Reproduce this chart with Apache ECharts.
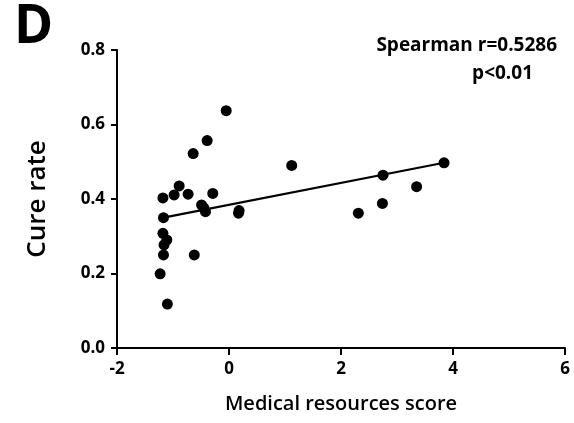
<!DOCTYPE html>
<html>
<head>
<meta charset="utf-8">
<script src="https://cdn.jsdelivr.net/npm/echarts@6/dist/echarts.min.js"></script>
<style>html,body{margin:0;padding:0;background:#fff}#c{width:574px;height:423px}</style>
</head>
<body>
<div id="c"></div>
<script>
var xValues = [-0.05,-0.39,-0.64,1.12,3.84,2.75,3.35,-0.89,-0.98,-0.73,-0.29,-1.18,-0.49,-0.42,0.17,0.18,2.74,2.31,-1.17,-1.18,-1.11,-1.16,-1.17,-0.62,-1.23,-1.10,-0.45];
var yValues = [0.637,0.557,0.522,0.490,0.497,0.464,0.433,0.435,0.411,0.413,0.415,0.403,0.384,0.366,0.362,0.369,0.388,0.362,0.350,0.308,0.290,0.277,0.250,0.250,0.199,0.118,0.376];
var fitSlope = 0.0294;
var fitIntercept = 0.3844;
var fitStartX = -1.17;
var xTicks = [-2, 0, 2, 4, 6];
var yTicks = [0.0, 0.2, 0.4, 0.6, 0.8];
var panelLabel = 'D';
var statText1 = 'Spearman r=0.5286';
var statText2 = 'p<0.01';

var points = xValues.map(function(x, i){ return [x, yValues[i]]; });
var fitEndX = Math.max.apply(null, xValues);
var fitLine = [[fitStartX, fitIntercept + fitSlope*fitStartX],[fitEndX, fitIntercept + fitSlope*fitEndX]];

var font = '"Open Sans", "DejaVu Sans", sans-serif';
var chart = echarts.init(document.getElementById('c'), null, {renderer:'canvas'});
chart.setOption({
  animation: false,
  backgroundColor: '#fff',
  grid: {left: 117, right: 9, top: 50, bottom: 75, containLabel: false},
  title: [
    {text: panelLabel, left: 9, top: -4, textStyle: {fontFamily: font, fontSize: 53, fontWeight: 'bold', color: '#000'}},
    {text: statText1, right: 12, top: 31, textStyle: {fontFamily: font, fontSize: 19, fontWeight: 'bold', color: '#000'}},
    {text: statText2, right: 36, top: 59, textStyle: {fontFamily: font, fontSize: 19, fontWeight: 'bold', color: '#000'}}
  ],
  xAxis: {
    type: 'value', min: xTicks[0], max: xTicks[xTicks.length-1], interval: 2,
    name: 'Medical resources score', nameLocation: 'middle', nameGap: 46,
    nameTextStyle: {fontFamily: font, fontSize: 20, color: '#000', fontWeight: 600},
    axisLine: {show: true, onZero: false, lineStyle: {color: '#000', width: 2}},
    axisTick: {show: true, length: 7, lineStyle: {color: '#000', width: 2}},
    axisLabel: {fontFamily: font, fontSize: 17, fontWeight: 'bold', color: '#000', margin: 13},
    splitLine: {show: false}
  },
  yAxis: {
    type: 'value', min: yTicks[0], max: yTicks[yTicks.length-1], interval: 0.2,
    name: 'Cure rate', nameLocation: 'middle', nameGap: 66, nameRotate: 90,
    nameTextStyle: {fontFamily: font, fontSize: 26, color: '#000', fontWeight: 600},
    axisLine: {show: true, onZero: false, lineStyle: {color: '#000', width: 2}},
    axisTick: {show: true, length: 6, lineStyle: {color: '#000', width: 2}},
    axisLabel: {fontFamily: font, fontSize: 17, fontWeight: 'bold', color: '#000', margin: 12,
      formatter: function(v){ return v.toFixed(1); }},
    splitLine: {show: false}
  },
  series: [
    {type: 'scatter', data: points, symbol: 'circle', symbolSize: 11, itemStyle: {color: '#000', opacity: 1}, z: 3},
    {type: 'line', data: fitLine, symbol: 'none', lineStyle: {color: '#000', width: 2.2}, z: 2}
  ]
});
</script>
</body>
</html>
